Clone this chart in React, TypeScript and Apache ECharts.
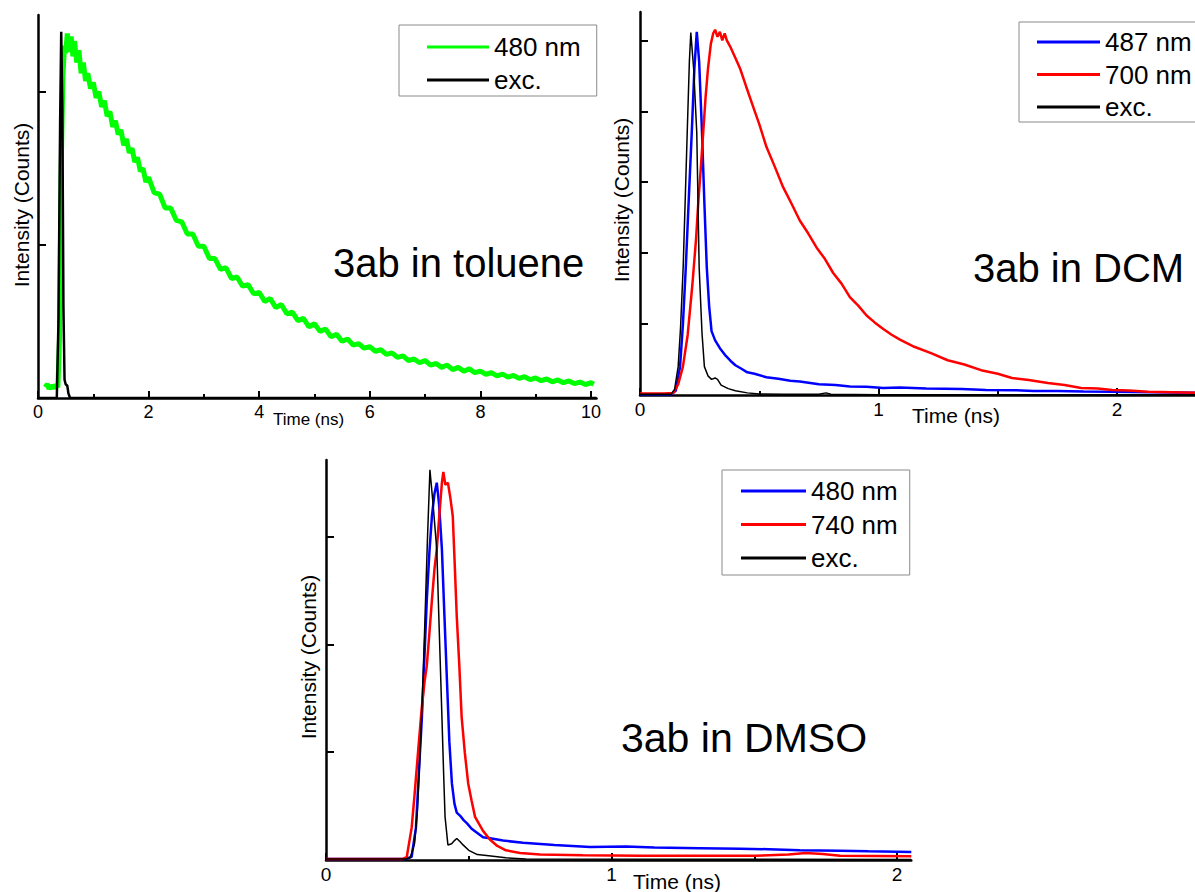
import React, { useEffect, useRef } from "react";
import * as echarts from "echarts";

const FONT = '"Liberation Sans", Arial, sans-serif';

// ---------- Panel 1: 3ab in toluene ----------
const toluene480: [number, number][] = [
  [0.13, 0.07], [0.17, 0.09], [0.2, 0.06], [0.24, 0.08], [0.28, 0.065], [0.32, 0.085], [0.36, 0.07],
  [0.39, 0.4], [0.42, 1.5], [0.45, 2.1], [0.48, 2.3], [0.5, 2.25], [0.53, 2.38], [0.56, 2.26],
  [0.6, 2.36], [0.63, 2.23], [0.66, 2.33], [0.7, 2.19], [0.74, 2.27], [0.78, 2.12], [0.82, 2.19],
  [0.86, 2.07], [0.9, 2.12], [0.95, 2.02], [1.0, 2.06], [1.05, 1.96], [1.1, 2.0], [1.15, 1.9],
  [1.2, 1.94], [1.25, 1.84], [1.3, 1.87], [1.35, 1.77], [1.4, 1.81], [1.45, 1.72], [1.5, 1.75],
  [1.55, 1.65], [1.6, 1.69], [1.65, 1.6], [1.7, 1.63], [1.75, 1.54], [1.8, 1.57], [1.85, 1.48],
  [1.9, 1.5], [1.95, 1.41], [2.0, 1.44], [2.1, 1.34], [2.2, 1.33], [2.3, 1.24], [2.4, 1.24],
  [2.5, 1.16], [2.6, 1.15], [2.7, 1.07], [2.8, 1.07], [2.9, 0.99], [3.0, 0.99], [3.1, 0.91],
  [3.2, 0.91], [3.3, 0.84], [3.4, 0.85], [3.5, 0.78], [3.6, 0.79], [3.7, 0.73], [3.8, 0.74],
  [3.9, 0.68], [4.0, 0.69], [4.1, 0.63], [4.2, 0.65], [4.3, 0.59], [4.4, 0.61], [4.5, 0.55],
  [4.6, 0.56], [4.7, 0.505], [4.8, 0.52], [4.9, 0.465], [5.0, 0.485], [5.1, 0.435], [5.2, 0.45],
  [5.3, 0.4], [5.4, 0.415], [5.5, 0.37], [5.6, 0.385], [5.7, 0.345], [5.8, 0.355], [5.9, 0.325],
  [6.0, 0.335], [6.1, 0.305], [6.2, 0.315], [6.3, 0.285], [6.4, 0.295], [6.5, 0.265], [6.6, 0.275],
  [6.7, 0.245], [6.8, 0.255], [6.9, 0.23], [7.0, 0.245], [7.1, 0.215], [7.2, 0.225], [7.3, 0.2],
  [7.4, 0.215], [7.5, 0.185], [7.6, 0.2], [7.7, 0.175], [7.8, 0.19], [7.9, 0.165], [8.0, 0.176],
  [8.1, 0.155], [8.2, 0.166], [8.3, 0.145], [8.4, 0.156], [8.5, 0.136], [8.6, 0.147], [8.7, 0.128],
  [8.8, 0.139], [8.9, 0.12], [9.0, 0.131], [9.1, 0.113], [9.2, 0.124], [9.3, 0.106], [9.4, 0.118],
  [9.5, 0.1], [9.6, 0.111], [9.7, 0.094], [9.8, 0.104], [9.9, 0.088], [10.0, 0.1], [10.05, 0.09],
];
const tolueneExc: [number, number][] = [
  [0.0, 0.0], [0.34, 0.0], [0.37, 0.5], [0.4, 1.8], [0.42, 2.39], [0.44, 1.9], [0.46, 0.6],
  [0.48, 0.12], [0.5, 0.09], [0.53, 0.08], [0.55, 0.03], [0.58, 0.0], [2.0, 0.0], [10.1, 0.0],
];

// ---------- Panel 2: 3ab in DCM ----------
const dcm487: [number, number][] = [
  [0, 0.01], [0.13, 0.01], [0.15, 0.06], [0.168, 0.4], [0.18, 1.0], [0.192, 1.8], [0.205, 2.8],
  [0.217, 3.7], [0.228, 4.6], [0.238, 5.12], [0.248, 4.7], [0.26, 3.7], [0.27, 2.7], [0.28, 1.8],
  [0.29, 1.25], [0.3, 0.9], [0.315, 0.77], [0.335, 0.66], [0.36, 0.55], [0.38, 0.48], [0.4, 0.42],
  [0.42, 0.38], [0.45, 0.32], [0.48, 0.3], [0.53, 0.25], [0.58, 0.23], [0.63, 0.2], [0.67, 0.19],
  [0.75, 0.15], [0.82, 0.14], [0.88, 0.12], [0.95, 0.115], [1.02, 0.1], [1.09, 0.105], [1.2, 0.09],
  [1.35, 0.085], [1.45, 0.07], [1.56, 0.068], [1.65, 0.058], [1.75, 0.055], [1.86, 0.048],
  [1.98, 0.045], [2.15, 0.04], [2.33, 0.03], [2.6, 0.025], [3.0, 0.02],
];
const dcm700: [number, number][] = [
  [0, 0.02], [0.1, 0.02], [0.14, 0.03], [0.16, 0.15], [0.18, 0.4], [0.2, 0.85], [0.22, 1.57],
  [0.235, 2.2], [0.245, 2.75], [0.255, 3.2], [0.265, 3.7], [0.275, 4.2], [0.285, 4.6],
  [0.297, 4.95], [0.307, 5.1], [0.315, 5.15], [0.325, 5.05], [0.335, 5.12], [0.345, 5.0],
  [0.355, 5.1], [0.364, 5.0], [0.38, 4.9], [0.4, 4.75], [0.42, 4.6], [0.445, 4.35], [0.475, 4.06],
  [0.5, 3.82], [0.53, 3.5], [0.565, 3.22], [0.6, 2.93], [0.635, 2.7], [0.67, 2.46], [0.705, 2.28],
  [0.74, 2.08], [0.775, 1.92], [0.81, 1.72], [0.845, 1.57], [0.88, 1.38], [0.915, 1.26],
  [0.95, 1.12], [0.985, 1.02], [1.02, 0.93], [1.055, 0.85], [1.09, 0.78], [1.15, 0.68],
  [1.22, 0.59], [1.29, 0.49], [1.36, 0.43], [1.43, 0.35], [1.5, 0.3], [1.56, 0.24], [1.63, 0.21],
  [1.71, 0.17], [1.78, 0.14], [1.85, 0.1], [1.92, 0.09], [1.98, 0.07], [2.05, 0.065],
  [2.13, 0.045], [2.23, 0.04], [2.33, 0.03], [2.6, 0.025], [3.0, 0.02],
];
const dcmExc: [number, number][] = [
  [0, 0.01], [0.13, 0.01], [0.145, 0.08], [0.16, 0.4], [0.17, 0.95], [0.181, 1.8], [0.19, 2.8],
  [0.198, 3.7], [0.207, 4.7], [0.213, 5.11], [0.225, 4.6], [0.238, 3.7], [0.248, 1.8],
  [0.26, 0.87], [0.27, 0.4], [0.285, 0.27], [0.3, 0.22], [0.315, 0.24], [0.325, 0.22],
  [0.34, 0.14], [0.37, 0.09], [0.4, 0.06], [0.45, 0.03], [0.5, 0.015], [0.6, 0.01], [0.75, 0.01],
  [0.78, 0.03], [0.8, 0.01], [1.0, 0.005], [3.0, 0.005],
];

// ---------- Panel 3: 3ab in DMSO ----------
const dmso480: [number, number][] = [
  [0, 0.01], [0.28, 0.01], [0.3, 0.03], [0.315, 0.3], [0.325, 0.8], [0.336, 1.33], [0.345, 1.9],
  [0.353, 2.41], [0.362, 2.85], [0.371, 3.19], [0.38, 3.4], [0.388, 3.5], [0.396, 3.3],
  [0.406, 2.88], [0.415, 2.25], [0.424, 1.64], [0.432, 1.1], [0.441, 0.71], [0.45, 0.52],
  [0.458, 0.44], [0.47, 0.41], [0.482, 0.37], [0.494, 0.34], [0.51, 0.29], [0.53, 0.25],
  [0.55, 0.21], [0.58, 0.2], [0.62, 0.18], [0.69, 0.16], [0.8, 0.14], [0.925, 0.12],
  [1.05, 0.125], [1.15, 0.115], [1.31, 0.11], [1.45, 0.105], [1.55, 0.1], [1.66, 0.09],
  [1.8, 0.085], [1.9, 0.08], [2.05, 0.075],
];
const dmso740: [number, number][] = [
  [0, 0.01], [0.27, 0.01], [0.283, 0.03], [0.3, 0.3], [0.31, 0.6], [0.323, 1.02], [0.335, 1.4],
  [0.345, 1.65], [0.353, 1.8], [0.362, 2.1], [0.371, 2.41], [0.38, 2.7], [0.388, 2.88],
  [0.397, 3.2], [0.406, 3.5], [0.411, 3.6], [0.418, 3.48], [0.427, 3.5], [0.436, 3.35],
  [0.444, 3.19], [0.45, 2.8], [0.458, 2.26], [0.467, 1.8], [0.475, 1.33], [0.486, 1.0],
  [0.498, 0.71], [0.51, 0.55], [0.522, 0.4], [0.55, 0.27], [0.574, 0.19], [0.6, 0.13],
  [0.63, 0.09], [0.68, 0.065], [0.75, 0.05], [0.9, 0.045], [1.1, 0.04], [1.3, 0.04], [1.5, 0.04],
  [1.62, 0.05], [1.68, 0.065], [1.74, 0.055], [1.8, 0.04], [2.05, 0.035],
];
const dmsoExc: [number, number][] = [
  [0, 0.01], [0.28, 0.01], [0.295, 0.02], [0.31, 0.15], [0.32, 0.45], [0.33, 1.02], [0.34, 1.7],
  [0.347, 2.26], [0.355, 2.95], [0.364, 3.62], [0.375, 3.3], [0.388, 2.88], [0.397, 2.1],
  [0.406, 1.33], [0.412, 0.8], [0.417, 0.4], [0.427, 0.14], [0.44, 0.15], [0.45, 0.18],
  [0.458, 0.2], [0.47, 0.17], [0.48, 0.14], [0.5, 0.09], [0.53, 0.05], [0.57, 0.04], [0.6, 0.03],
  [0.63, 0.02], [0.7, 0.01], [2.05, 0.005],
];

const xTicks1 = [0, 2, 4, 6, 8, 10];
const xTicks2 = [0, 1, 2, 3];
const xTicks3 = [0, 1, 2];
const yTicks1 = [1, 2];
const yTicks2 = [1, 2, 3, 4, 5];
const yTicks3 = [1, 2, 3];

const titles = ["3ab in toluene", "3ab in DCM", "3ab in DMSO"];
const xName = "Time (ns)";
const yName = "Intensity (Counts)";

const GREEN = "#00ff00";
const BLUE = "#0000ff";
const RED = "#ff0000";
const BLACK = "#000000";

function xAxisCfg(gridIndex: number, max: number, interval: number, ticks: number[], labelSize: number) {
  return {
    type: "value",
    gridIndex,
    min: 0,
    max,
    interval,
    splitLine: { show: false },
    axisLine: { show: true, onZero: false, lineStyle: { color: BLACK, width: 2.5 } },
    axisTick: { show: true, inside: true, length: 7, customValues: ticks, lineStyle: { color: BLACK, width: 2 } },
    minorTick: { show: true, splitNumber: 2, length: 4, lineStyle: { color: BLACK, width: 2 } },
    axisLabel: { margin: 5, color: BLACK, fontSize: labelSize, fontFamily: FONT },
  };
}

function yAxisCfg(gridIndex: number, max: number, ticks: number[]) {
  return {
    type: "value",
    gridIndex,
    min: 0,
    max,
    interval: 1,
    splitLine: { show: false },
    axisLine: { show: true, lineStyle: { color: BLACK, width: 2.5 } },
    axisTick: { show: true, inside: true, length: 8, customValues: ticks, lineStyle: { color: BLACK, width: 2 } },
    axisLabel: { show: false },
  };
}

function lineSeries(name: string, data: [number, number][], idx: number, color: string, width: number) {
  return {
    type: "line",
    name,
    data,
    xAxisIndex: idx,
    yAxisIndex: idx,
    symbol: "none",
    lineStyle: { color, width },
    itemStyle: { color },
  };
}

function legendCfg(
  items: { name: string; color: string }[],
  left: number,
  top: number,
  padding: number[],
  itemWidth: number,
  itemGap: number
) {
  return {
    show: true,
    orient: "vertical",
    left,
    top,
    padding,
    itemWidth,
    itemHeight: 3,
    itemGap,
    icon: "rect",
    selectedMode: false,
    borderColor: "#8a8a8a",
    borderWidth: 1,
    data: items.map((it) => ({ name: it.name, itemStyle: { color: it.color, borderWidth: 0 } })),
    textStyle: { color: BLACK, fontSize: 26, fontFamily: FONT, lineHeight: 28 },
  };
}

function textEl(text: string, x: number, y: number, size: number) {
  return {
    type: "text",
    x,
    y,
    style: { text, fill: BLACK, fontSize: size, fontFamily: FONT, verticalAlign: "middle", align: "left" },
  };
}

function vTextEl(text: string, x: number, y: number, size: number) {
  return {
    type: "text",
    x,
    y,
    rotation: Math.PI / 2,
    style: { text, fill: BLACK, fontSize: size, fontFamily: FONT, verticalAlign: "middle", align: "center" },
  };
}

export default function App() {
  const ref = useRef<HTMLDivElement>(null);

  useEffect(() => {
    if (!ref.current) return;
    const chart = echarts.init(ref.current, null, { renderer: "svg" });
    chart.setOption({
      animation: false,
      grid: [
        { left: 38, top: 15, width: 558.5, height: 383 },
        { left: 640, top: 12, width: 715.5, height: 383 },
        { left: 326, top: 460, width: 585.3, height: 400 },
      ],
      xAxis: [
        xAxisCfg(0, 10.1, 2, xTicks1, 18),
        xAxisCfg(1, 3, 1, xTicks2, 19),
        xAxisCfg(2, 2.05, 1, xTicks3, 19),
      ],
      yAxis: [yAxisCfg(0, 2.5, yTicks1), yAxisCfg(1, 5.4, yTicks2), yAxisCfg(2, 3.71, yTicks3)],
      legend: [
        legendCfg([{ name: "480 nm", color: GREEN }, { name: "exc.", color: BLACK }], 399, 25, [8, 16, 2, 28], 62, 5),
        legendCfg(
          [{ name: "487 nm", color: BLUE }, { name: "700 nm", color: RED }, { name: "exc.", color: BLACK }],
          1019, 22, [6, 16, 1, 18], 63, 4.5
        ),
        legendCfg(
          [{ name: "480 nm", color: BLUE }, { name: "740 nm", color: RED }, { name: "exc.", color: BLACK }],
          722, 470, [7, 12, 3, 19], 65, 5.5
        ),
      ],
      graphic: [
        textEl(titles[0], 333, 263, 40),
        textEl(titles[1], 973, 267.5, 40),
        textEl(titles[2], 621, 738, 41),
        textEl(xName, 273, 419, 17),
        textEl(xName, 912, 415, 21),
        textEl(xName, 633, 881.5, 21),
        vTextEl(yName, 21, 205, 21),
        vTextEl(yName, 621, 200, 21),
        vTextEl(yName, 308, 657, 21),
      ],
      series: [
        lineSeries("480 nm", toluene480, 0, GREEN, 5),
        lineSeries("exc.", tolueneExc, 0, BLACK, 2.5),
        lineSeries("487 nm", dcm487, 1, BLUE, 2.5),
        lineSeries("700 nm", dcm700, 1, RED, 2.5),
        lineSeries("exc.", dcmExc, 1, BLACK, 1.5),
        lineSeries("480 nm", dmso480, 2, BLUE, 2.5),
        lineSeries("740 nm", dmso740, 2, RED, 2.5),
        lineSeries("exc.", dmsoExc, 2, BLACK, 1.5),
      ],
    });
    return () => chart.dispose();
  }, []);

  return (
    <div
      style={{
        position: "fixed",
        left: 0,
        top: 0,
        width: 1195,
        height: 892,
        overflow: "hidden",
        background: "#fff",
      }}
    >
      <div ref={ref} style={{ width: 1400, height: 892 }} />
    </div>
  );
}
